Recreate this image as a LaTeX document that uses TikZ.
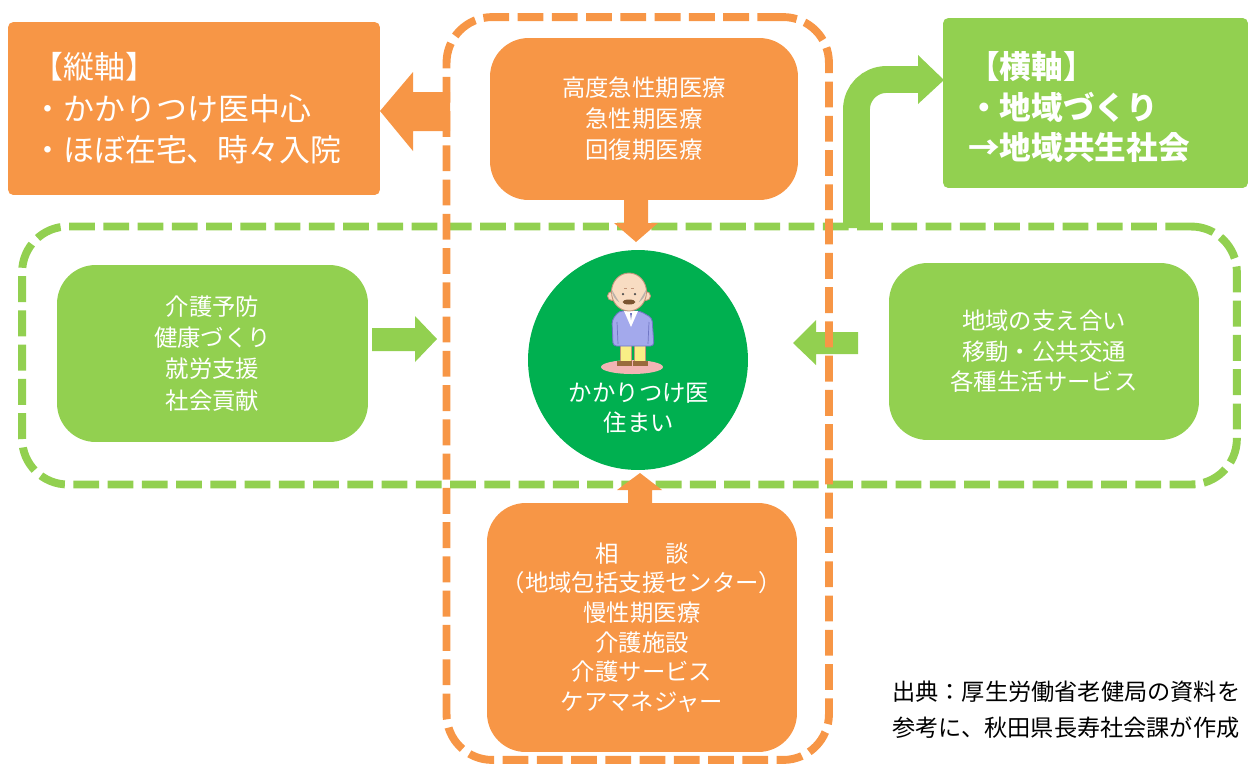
\documentclass[tikz,border=0pt]{standalone}
\usepackage{fontspec}
\setmainfont{Noto Sans CJK JP}
\usetikzlibrary{calc}

\definecolor{orangeF}{HTML}{F79646}
\definecolor{greenL}{HTML}{92D050}
\definecolor{greenC}{HTML}{00B050}
\definecolor{shadowpink}{HTML}{F2B4B4}
\definecolor{legyellow}{HTML}{F9EE86}
\definecolor{shoebrown}{HTML}{9A6A3C}
\definecolor{shirt}{HTML}{A3A9EC}
\definecolor{shirtline}{HTML}{6F76C4}
\definecolor{skin}{HTML}{F8DCC2}
\definecolor{skinline}{HTML}{C2957A}
\definecolor{hairgray}{HTML}{B9B2AA}

\tikzset{
  box/.style={rounded corners=22pt, inner sep=0pt, align=center, text=white,
    font=\fontsize{13.3}{17.6}\selectfont},
  obox/.style={box, fill=orangeF},
  gbox/.style={box, fill=greenL},
  axisbox/.style={rounded corners=3pt, inner sep=0pt},
  axistext/.style={anchor=west, inner sep=0pt, align=left, text=white},
  frame/.style={line width=4.5pt, dash pattern=on 14.7pt off 4.8pt, rounded corners=26pt, inner sep=0pt},
  ofill/.style={fill=orangeF},
  gfill/.style={fill=greenL},
}

\begin{document}
\begin{tikzpicture}[x=0.02cm,y=-0.02cm]
\useasboundingbox (0,0) rectangle (1249,772);

% region frame (horizontal axis)
\node[frame, draw=greenL, minimum width=24.3cm, minimum height=5.16cm] (regionframe) at (629.5,355.5) {};

% green block arrows into the centre
\fill[gfill] (372,328) -- (415,328) -- (415,316) -- (437,339) -- (415,362) -- (415,351) -- (372,351) -- cycle;
\fill[gfill] (858,332) -- (816,332) -- (816,320) -- (793,343) -- (816,365) -- (816,354) -- (858,354) -- cycle;

% bent arrow up to the horizontal-axis box
\draw[greenL, line width=15.3pt, rounded corners=17pt] (856.5,228) -- (856.5,79.5) -- (919,79.5);
\fill[gfill] (918,55) -- (944,80) -- (918,104) -- cycle;

% medical frame (vertical axis)
\node[frame, draw=orangeF, minimum width=7.65cm, minimum height=14.86cm] (medframe) at (637.75,388.5) {};

% axis boxes
\node[axisbox, fill=orangeF, minimum width=7.44cm, minimum height=3.46cm] (vbox) at (194,108.5) {};
\node[axistext, font=\fontsize{17.6}{23.6}\selectfont] (vtext) at (32,108.5)
  {【縦軸】\\・かかりつけ医中心\\・ほぼ在宅、時々入院};

\node[axisbox, fill=greenL, minimum width=6.1cm, minimum height=3.4cm] (hbox) at (1095.5,103) {};
\node[axistext, font=\bfseries\fontsize{18}{22.8}\selectfont] (htext) at (968,107)
  {【横軸】\\・地域づくり\\→地域共生社会};

% arrow from the medical frame to the vertical-axis box
\fill[ofill] (450,92) -- (413,92) -- (413,72) -- (380,111) -- (413,151) -- (413,131) -- (450,131) -- cycle;

% service boxes
\node[obox, minimum width=6.16cm, minimum height=3.24cm] (acute) at (644,119)
  {高度急性期医療\\急性期医療\\回復期医療};
\node[obox, minimum width=6.2cm, minimum height=4.98cm, font=\fontsize{13.3}{16.9}\selectfont] (care) at (642,627.5)
  {相　　談\\（地域包括支援センター）\\慢性期医療\\介護施設\\介護サービス\\ケアマネジャー};
\node[gbox, minimum width=6.22cm, minimum height=3.54cm, font=\fontsize{13.3}{17.7}\selectfont] (prevent) at (212.5,353.5)
  {介護予防\\健康づくり\\就労支援\\社会貢献};
\node[gbox, minimum width=6.2cm, minimum height=3.54cm, font=\fontsize{13.3}{17.3}\selectfont] (support) at (1044,351.5)
  {地域の支え合い\\移動・公共交通\\各種生活サービス};

% home circle
\node[circle, fill=greenC, minimum size=4.4cm, inner sep=0pt] (home) at (638,360) {};
\node[align=center, text=white, inner sep=0pt, font=\fontsize{13.3}{17}\selectfont] (hometext) at (639,408)
  {かかりつけ医\\住まい};

% orange block arrows into the circle
\fill[ofill] (624,200) -- (648,200) -- (648,223) -- (658,223) -- (636,242) -- (614,223) -- (624,223) -- cycle;
\fill[ofill] (628,503) -- (628,490) -- (617,490) -- (640,473) -- (662,490) -- (652,490) -- (652,503) -- cycle;

% elderly man figure
\fill[shadowpink] (632,367) ellipse [x radius=0.62cm, y radius=0.14cm];
\filldraw[fill=legyellow, draw=skinline, line width=0.3pt] (620,343) rectangle (631,363);
\filldraw[fill=legyellow, draw=skinline, line width=0.3pt] (634,343) rectangle (645,363);
\fill[shoebrown] (617,361) rectangle (632,366);
\fill[shoebrown] (633,361) rectangle (648,366);
\filldraw[fill=shirt, draw=shirtline, line width=0.5pt, rounded corners=2pt]
  (613,346) -- (612,320) -- (619,311) -- (640,311) -- (652,318) -- (654,346) -- cycle;
\draw[shirtline, line width=0.4pt] (617,322) -- (618,344);
\draw[shirtline, line width=0.4pt] (649,322) -- (648,344);
\fill[white] (624,311) -- (631,327) -- (638,311) -- cycle;
\fill[shirtline] (630,313) -- (632,313) -- (631,320) -- cycle;
\filldraw[fill=skin, draw=skinline, line width=0.5pt] (612,296) circle [radius=0.09cm];
\filldraw[fill=skin, draw=skinline, line width=0.5pt] (646,296) circle [radius=0.09cm];
\filldraw[fill=skin, draw=skinline, line width=0.5pt] (629,292) ellipse [x radius=0.35cm, y radius=0.38cm];
\fill[hairgray] (612,290) arc [start angle=180, end angle=235, x radius=0.34cm, y radius=0.3cm] -- cycle;
\fill[hairgray] (646,290) arc [start angle=0, end angle=-55, x radius=0.34cm, y radius=0.3cm] -- cycle;
\fill[black!70] (623,294) circle [radius=0.025cm];
\fill[black!70] (635,294) circle [radius=0.025cm];
\fill[shoebrown!80!black] (629,302) ellipse [x radius=0.13cm, y radius=0.05cm];
\draw[skinline, line width=0.4pt] (624,288) -- (627,288);
\draw[skinline, line width=0.4pt] (631,288) -- (634,288);

% source note
\node[anchor=west, align=left, inner sep=0pt, text=black, font=\fontsize{13.2}{20.4}\selectfont] (source) at (892,710)
  {出典：厚生労働省老健局の資料を\\参考に、秋田県長寿社会課が作成};
\end{tikzpicture}
\end{document}
